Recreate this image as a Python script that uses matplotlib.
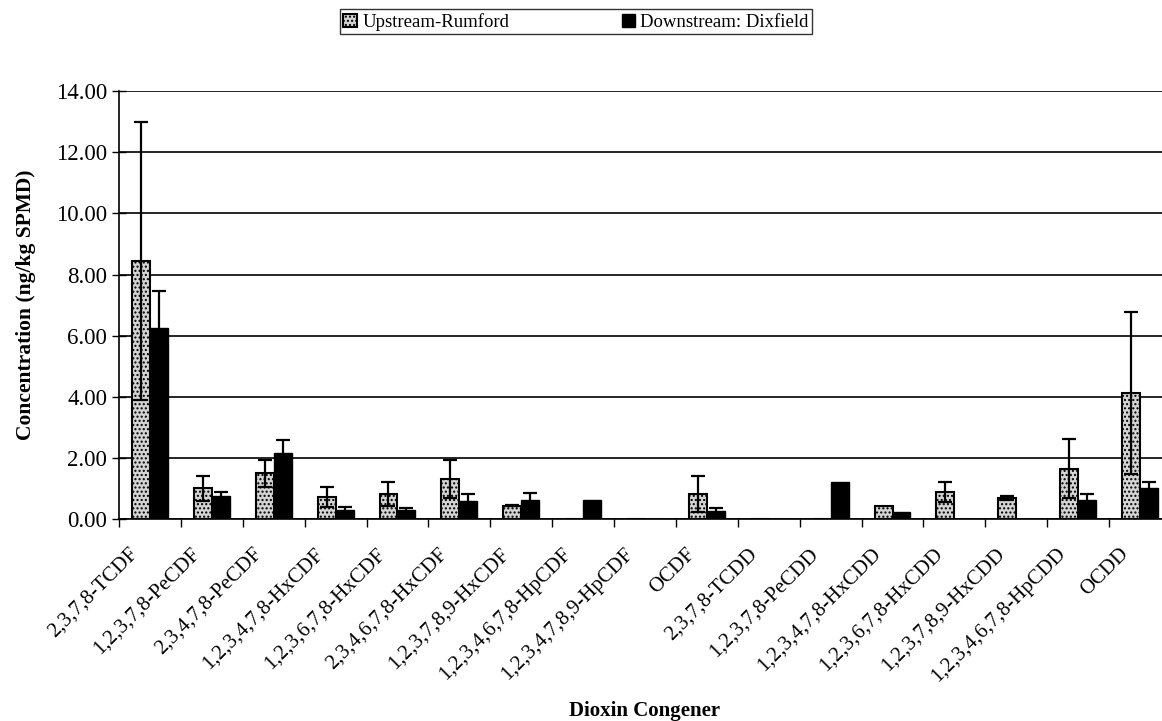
import matplotlib.pyplot as plt
from matplotlib.transforms import ScaledTranslation
import numpy as np

# congeners on the x axis
congeners = ["2,3,7,8-TCDF", "1,2,3,7,8-PeCDF", "2,3,4,7,8-PeCDF", "1,2,3,4,7,8-HxCDF",
             "1,2,3,6,7,8-HxCDF", "2,3,4,6,7,8-HxCDF", "1,2,3,7,8,9-HxCDF", "1,2,3,4,6,7,8-HpCDF",
             "1,2,3,4,7,8,9-HpCDF", "OCDF", "2,3,7,8-TCDD", "1,2,3,7,8-PeCDD",
             "1,2,3,4,7,8-HxCDD", "1,2,3,6,7,8-HxCDD", "1,2,3,7,8,9-HxCDD", "1,2,3,4,6,7,8-HpCDD",
             "OCDD"]

# concentrations (ng/kg SPMD) and error bars
upstream = [8.45, 1.01, 1.50, 0.72, 0.83, 1.32, 0.45, 0.0, 0.0, 0.83, 0.0, 0.0,
            0.44, 0.88, 0.69, 1.66, 4.12]
upstream_err = [4.55, 0.40, 0.44, 0.33, 0.38, 0.62, 0.03, 0.0, 0.0, 0.59, 0.0, 0.0,
                0.0, 0.33, 0.07, 0.97, 2.65]
downstream = [6.24, 0.77, 2.18, 0.30, 0.30, 0.61, 0.62, 0.62, 0.0, 0.27, 0.0, 1.23,
              0.24, 0.0, 0.0, 0.63, 1.01]
downstream_err = [1.24, 0.13, 0.42, 0.11, 0.08, 0.22, 0.23, 0.0, 0.0, 0.11, 0.0, 0.0,
                  0.0, 0.0, 0.0, 0.20, 0.22]

plt.rcParams['font.family'] = ['Liberation Serif', 'DejaVu Serif']
plt.rcParams['hatch.color'] = '#888888'

fig = plt.figure(figsize=(11.62, 7.21), dpi=100)
ax = fig.add_axes([119 / 1162, 1 - 519.3 / 721, 1052 / 1162, 428.2 / 721])

x = np.arange(len(congeners))
w = 0.29

up_err = [e if e > 0 else np.nan for e in upstream_err]
dn_err = [e if e > 0 else np.nan for e in downstream_err]

ax.bar(x - w / 2, upstream, w, color="#d4d4d4", edgecolor="black", linewidth=1.5,
       hatch="....", label="Upstream-Rumford", zorder=3)
ax.bar(x + w / 2, downstream, w, color="black", edgecolor="black", linewidth=1,
       label="Downstream: Dixfield", zorder=3)
ax.errorbar(x - w / 2, upstream, yerr=up_err, fmt="none", ecolor="black",
            elinewidth=1.6, capsize=5, capthick=1.6, zorder=4)
ax.errorbar(x + w / 2, downstream, yerr=dn_err, fmt="none", ecolor="black",
            elinewidth=1.6, capsize=5, capthick=1.6, zorder=4)

ax.set_ylim(0, 14)
ax.set_xlim(-0.5, len(congeners) - 0.5)
ax.set_yticks(np.arange(0, 14.1, 2))
ax.set_yticklabels(["%.2f" % v for v in np.arange(0, 14.1, 2)], fontsize=16.5)
ax.yaxis.grid(True, color="black", linewidth=1.2, zorder=0)
ax.tick_params(axis="y", direction="inout", length=10, width=1)

ax.set_xticks(np.arange(-0.5, len(congeners)), minor=False)
ax.set_xticklabels([])
ax.set_xticks(x, minor=True)
ax.set_xticklabels(congeners, minor=True, rotation=45, ha="right", fontsize=15)
ax.tick_params(axis="x", which="major", direction="out", length=6, width=1)
ax.tick_params(axis="x", which="minor", length=0, pad=18)
shift = ScaledTranslation(-0.08, 0, fig.dpi_scale_trans)
for lab in ax.get_xticklabels(minor=True):
    lab.set_transform(lab.get_transform() + shift)

for s in ["top", "right"]:
    ax.spines[s].set_visible(False)
ax.spines["left"].set_linewidth(1.2)
ax.spines["bottom"].set_linewidth(1.2)

ax.set_ylabel("Concentration (ng/kg SPMD)", fontsize=15.5, fontweight="bold", labelpad=14)
fig.text(645 / 1162, 1 - 711 / 721, "Dioxin Congener", fontsize=15, fontweight="bold",
         ha="center", va="center")

leg = fig.legend(loc="upper center", bbox_to_anchor=(576 / 1162, 1 - 9 / 721), ncol=2,
                 fontsize=13.5, frameon=True, fancybox=False, edgecolor="black",
                 handlelength=0.7, handleheight=0.7, columnspacing=6.0, borderpad=0.2,
                 handletextpad=0.3, borderaxespad=0)
leg.get_frame().set_linewidth(1)

fig.savefig("out.png", dpi=100)
